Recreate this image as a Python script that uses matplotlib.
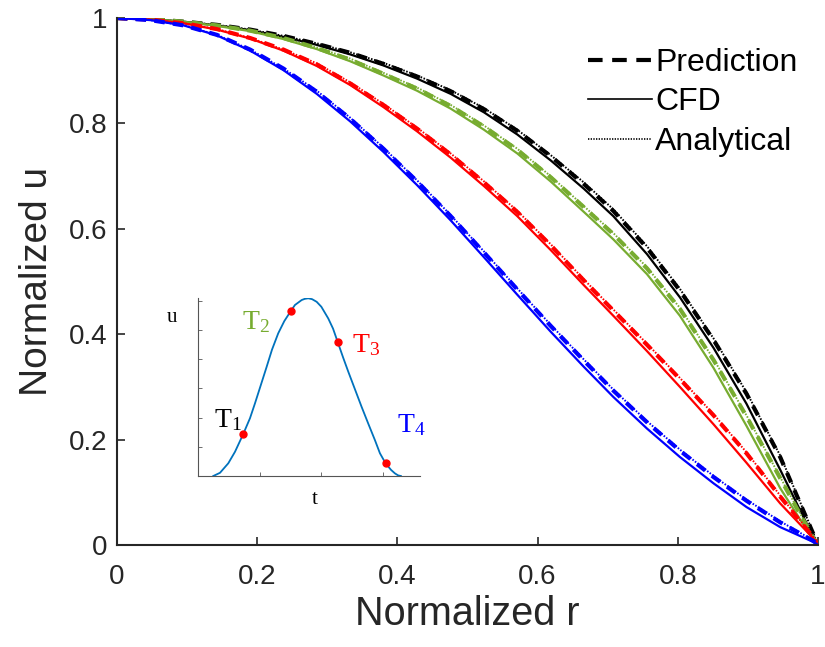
import numpy as np
import matplotlib.pyplot as plt
from matplotlib.lines import Line2D

# radial positions (normalized)
r = [0.0, 0.0475, 0.095, 0.1425, 0.19, 0.2375, 0.285, 0.3325, 0.38, 0.428, 0.476,
     0.5235, 0.571, 0.6185, 0.666, 0.708, 0.756, 0.803, 0.851, 0.898, 0.946, 0.993, 1.0]

# CFD profiles (solid)
cfd_black = [1.0, 0.998, 0.993, 0.986, 0.977, 0.964, 0.949, 0.931, 0.910, 0.885, 0.856,
             0.821, 0.779, 0.730, 0.676, 0.624, 0.552, 0.470, 0.374, 0.268, 0.143, 0.016, 0.0]
cfd_green = [1.0, 0.998, 0.993, 0.985, 0.975, 0.960, 0.941, 0.918, 0.891, 0.862, 0.828,
             0.788, 0.743, 0.690, 0.632, 0.580, 0.514, 0.435, 0.336, 0.226, 0.108, 0.010, 0.0]
cfd_red = [1.0, 0.997, 0.990, 0.978, 0.961, 0.938, 0.909, 0.873, 0.831, 0.785, 0.735,
           0.681, 0.624, 0.560, 0.493, 0.435, 0.368, 0.300, 0.229, 0.156, 0.079, 0.013, 0.0]
cfd_blue = [1.0, 0.996, 0.986, 0.967, 0.938, 0.901, 0.856, 0.804, 0.746, 0.683, 0.616,
            0.546, 0.475, 0.405, 0.338, 0.281, 0.221, 0.167, 0.117, 0.072, 0.034, 0.006, 0.0]

# network prediction (dashed)
pred_black = [1.0, 0.998, 0.993, 0.987, 0.978, 0.966, 0.951, 0.934, 0.913, 0.889, 0.861,
              0.827, 0.786, 0.738, 0.685, 0.634, 0.564, 0.483, 0.389, 0.287, 0.167, 0.022, 0.0]
pred_green = [1.0, 0.998, 0.993, 0.986, 0.976, 0.962, 0.943, 0.921, 0.894, 0.866, 0.833,
              0.794, 0.750, 0.698, 0.641, 0.590, 0.525, 0.448, 0.351, 0.244, 0.127, 0.014, 0.0]
pred_red = [1.0, 0.997, 0.990, 0.979, 0.962, 0.940, 0.912, 0.876, 0.835, 0.790, 0.741,
            0.688, 0.632, 0.569, 0.502, 0.445, 0.380, 0.315, 0.246, 0.174, 0.092, 0.015, 0.0]
pred_blue = [1.0, 0.996, 0.986, 0.968, 0.940, 0.904, 0.860, 0.809, 0.752, 0.690, 0.624,
             0.555, 0.485, 0.416, 0.350, 0.293, 0.233, 0.179, 0.129, 0.084, 0.043, 0.008, 0.0]

# analytical (dotted)
ana_black = [1.0, 0.998, 0.993, 0.987, 0.978, 0.966, 0.952, 0.935, 0.915, 0.891, 0.863,
             0.829, 0.788, 0.740, 0.688, 0.637, 0.567, 0.486, 0.392, 0.290, 0.170, 0.024, 0.0]
ana_green = [1.0, 0.998, 0.993, 0.986, 0.976, 0.962, 0.944, 0.923, 0.896, 0.868, 0.835,
             0.796, 0.752, 0.700, 0.643, 0.592, 0.527, 0.450, 0.353, 0.246, 0.129, 0.015, 0.0]
ana_red = [1.0, 0.997, 0.990, 0.979, 0.962, 0.940, 0.914, 0.878, 0.837, 0.792, 0.743,
           0.690, 0.634, 0.571, 0.504, 0.447, 0.382, 0.317, 0.248, 0.176, 0.094, 0.016, 0.0]
ana_blue = [1.0, 0.996, 0.986, 0.968, 0.940, 0.904, 0.862, 0.811, 0.754, 0.692, 0.626,
            0.557, 0.487, 0.418, 0.352, 0.295, 0.235, 0.181, 0.131, 0.086, 0.045, 0.009, 0.0]

colors = ['black', '#77AC30', 'red', 'blue']

# inset waveform u(t)
t_wave = [0.248, 0.357, 0.491, 0.60, 0.734, 0.843, 0.924, 1.113, 1.2, 1.301, 1.40, 1.507,
          1.572, 1.681, 1.73, 1.788, 1.85, 1.924, 2.0, 2.112, 2.19, 2.264, 2.355, 2.436,
          2.653, 2.76, 2.869, 2.95, 3.042, 3.13, 3.193, 3.246, 3.290]
u_wave = [0.0, 0.11, 0.435, 0.83, 1.44, 1.98, 2.49, 3.74, 4.33, 4.89, 5.31, 5.66,
          5.86, 6.03, 6.07, 6.09, 6.06, 5.97, 5.80, 5.40, 5.05, 4.60, 4.05, 3.58,
          2.37, 1.80, 1.23, 0.78, 0.435, 0.21, 0.09, 0.02, 0.0]
t_pts = [0.734, 1.507, 2.264, 3.042]
u_pts = [1.44, 5.66, 4.60, 0.435]
pt_labels = ['T$_1$', 'T$_2$', 'T$_3$', 'T$_4$']

plt.rcParams['font.family'] = ['Liberation Sans', 'DejaVu Sans']
plt.rcParams['mathtext.fontset'] = 'custom'
plt.rcParams['mathtext.rm'] = 'Liberation Serif'
plt.rcParams['mathtext.it'] = 'Liberation Serif'
plt.rcParams['mathtext.default'] = 'rm'

W, H = 825, 647
fig = plt.figure(figsize=(W / 100, H / 100), dpi=100)
ax = fig.add_axes([117 / W, 1 - 545 / H, 701 / W, 527 / H])

cfd = [cfd_black, cfd_green, cfd_red, cfd_blue]
pred = [pred_black, pred_green, pred_red, pred_blue]
ana = [ana_black, ana_green, ana_red, ana_blue]
for c, y1, y2, y3 in zip(colors, cfd, pred, ana):
    ax.plot(r, y1, color=c, lw=1.6, ls='-')
    ax.plot(r, y2, color=c, lw=3, ls=(0, (2.5, 2)))
    ax.plot(r, y3, color=c, lw=1.4, ls=(0, (0.8, 0.8)))

ax.set_xlim(0, 1)
ax.set_ylim(0, 1)
ax.set_xticks([0, 0.2, 0.4, 0.6, 0.8, 1])
ax.set_xticklabels(['0', '0.2', '0.4', '0.6', '0.8', '1'])
ax.set_yticks([0, 0.2, 0.4, 0.6, 0.8, 1])
ax.set_yticklabels(['0', '0.2', '0.4', '0.6', '0.8', '1'])
ax.tick_params(direction='in', length=6, width=1.2, labelsize=20, colors='#262626')
ax.tick_params(axis='x', pad=14)
ax.tick_params(axis='y', pad=7)
for s in ['top', 'right']:
    ax.spines[s].set_visible(False)
for s in ['left', 'bottom']:
    ax.spines[s].set_linewidth(1.5)
    ax.spines[s].set_color('#262626')
ax.set_xlabel('Normalized r', fontsize=28.5, color='#262626', labelpad=3)
ax.set_ylabel('Normalized u', fontsize=28, color='#262626', labelpad=10)

handles = [Line2D([], [], color='black', lw=3, ls=(0, (3.5, 2.3))),
           Line2D([], [], color='black', lw=1.2, ls='-'),
           Line2D([], [], color='black', lw=1.2, ls=(0, (0.8, 0.8)))]
ax.legend(handles, ['Prediction', 'CFD', 'Analytical'], loc='upper right',
          bbox_to_anchor=(1.007, 0.992), frameon=False, fontsize=23,
          handlelength=2.0, handletextpad=0.1, labelspacing=0.3, borderpad=0.3)

# inset
axi = fig.add_axes([198 / W, 1 - 476 / H, 222 / W, 178 / H])
axi.plot(t_wave, u_wave, color='#0072BD', lw=1.3)
axi.plot(t_pts, u_pts, 'o', color='red', ms=5)
axi.set_xlim(0, 3.6)
axi.set_ylim(0, 6.1)
axi.set_xticks([1, 2, 3])
axi.set_yticks([0, 1, 2, 3, 4, 5, 6])
axi.set_xticklabels([])
axi.set_yticklabels([])
axi.tick_params(direction='in', length=3, width=0.6, colors='#555555')
for s in ['top', 'right']:
    axi.spines[s].set_visible(False)
for s in ['left', 'bottom']:
    axi.spines[s].set_color('#555555')
    axi.spines[s].set_linewidth(0.8)
fig.text(172 / W, 1 - 318 / H, 'u', family='Liberation Serif', fontsize=15, ha='center', va='center')
fig.text(315 / W, 1 - 500 / H, 't', family='Liberation Serif', fontsize=15, ha='center', va='center')

lab_pos = [(214, 427), (242, 329), (352, 352), (397, 432)]
for (px, py), lab, c in zip(lab_pos, pt_labels, colors):
    fig.text(px / W, 1 - py / H, lab, family='Liberation Serif', fontsize=20,
             color=c, ha='left', va='baseline')

fig.savefig('out.png', dpi=100)
